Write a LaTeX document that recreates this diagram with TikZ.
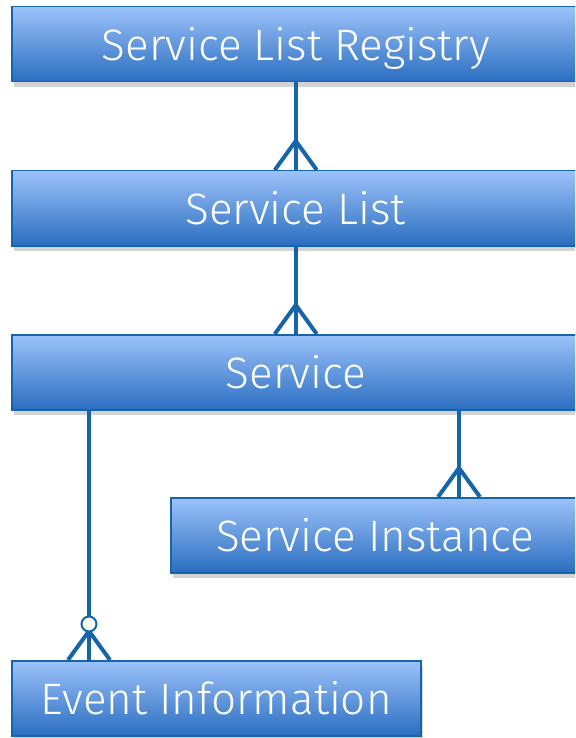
\documentclass[tikz,border=0pt]{standalone}
\usepackage{fontspec}
\setmainfont{Fira Sans Light}
\usetikzlibrary{shadows,calc}

\definecolor{boxtop}{HTML}{9CC2FA}
\definecolor{boxbot}{HTML}{2A6EC0}
\definecolor{boxedge}{HTML}{1565A8}
\definecolor{linkblue}{HTML}{1565A8}

% crow's foot, base point given
\newcommand{\crowfoot}[1]{%
  \draw[leg] (#1) ++(-21,0) -- ++(21,-29) -- ++(21,29);}

\begin{document}
\begin{tikzpicture}[x=1pt,y=-1pt,
  entity/.style={draw=boxedge,line width=1.5pt,top color=boxtop,bottom color=boxbot,
    text=white,font=\fontsize{44}{48}\selectfont,minimum height=75pt,inner sep=0pt,
    text height=32pt,text depth=0pt,
    anchor=north west,drop shadow={shadow xshift=2pt,shadow yshift=-5pt,opacity=0.35}},
  link/.style={draw=linkblue,line width=4.5pt},
  leg/.style={draw=linkblue,line width=4pt,line join=miter}]
\useasboundingbox (0,0) rectangle (575,738);
\clip (0,0) rectangle (575,738);

\node[entity,minimum width=568pt] (reg) at (11,6) {Service List Registry};
\node[entity,minimum width=568pt] (list) at (11,170) {Service List};
\node[entity,minimum width=568pt] (svc) at (11,334) {Service};
\node[entity,minimum width=409pt] (inst) at (170,497) {Service Instance};
\node[entity,minimum width=409pt] (evt) at (11,660) {Event Information};

\coordinate (svcA) at (svc.south -| 459,0);
\coordinate (instA) at (inst.north -| 459,0);
\coordinate (svcB) at (svc.south -| 89,0);
\coordinate (evtB) at (evt.north -| 89,0);

\draw[link] (reg.south) -- (list.north);
\crowfoot{list.north}
\draw[link] (list.south) -- (svc.north);
\crowfoot{svc.north}
\draw[link] (svcA) -- (instA);
\crowfoot{instA}
\draw[link] (svcB) -- (evtB);
\crowfoot{evtB}
\node[circle,draw=linkblue,fill=white,line width=2pt,minimum size=15pt,inner sep=0pt]
  (opt) at ($(evtB)+(0,-36)$) {};
\end{tikzpicture}
\end{document}
